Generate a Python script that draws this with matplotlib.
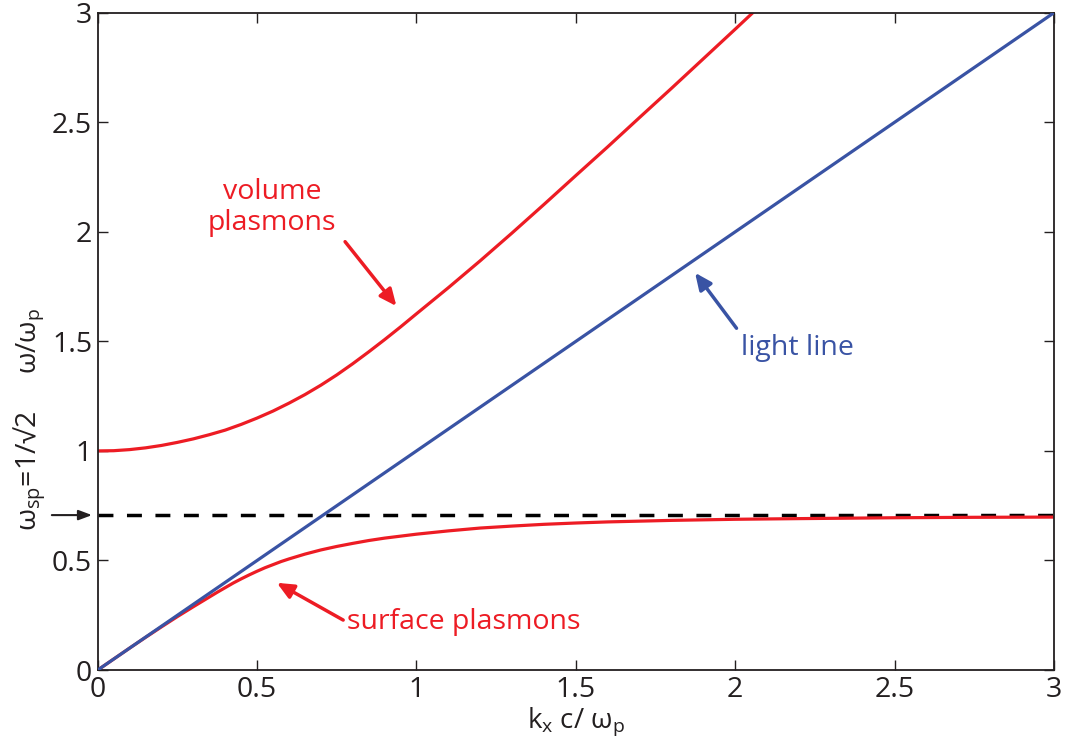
import matplotlib
matplotlib.use("Agg")
import matplotlib.pyplot as plt
from matplotlib.ticker import FormatStrFormatter

plt.rcParams['font.family'] = ['Open Sans', 'DejaVu Sans']
plt.rcParams['mathtext.fontset'] = 'custom'
plt.rcParams['mathtext.rm'] = 'Open Sans'
plt.rcParams['mathtext.it'] = 'Open Sans'

RED = '#ED1C24'
BLUE = '#3953A4'
INK = '#231F20'

# dispersion curves, omega/omega_p vs k_x c/omega_p
light_k = [0.0, 3.0]
light_w = [0.0, 3.0]

volume_k = [0.0, 0.05, 0.1, 0.15, 0.2, 0.25, 0.3, 0.35, 0.4, 0.45, 0.5,
            0.55, 0.6, 0.65, 0.7, 0.75, 0.8, 0.85, 0.9, 0.95, 1.0,
            1.1, 1.2, 1.3, 1.4, 1.5, 1.6, 1.7, 1.8, 1.9, 2.0, 2.055]
volume_w = [1.000, 1.001, 1.006, 1.014, 1.025, 1.039, 1.055, 1.074, 1.095, 1.121, 1.150,
            1.182, 1.218, 1.257, 1.300, 1.347, 1.398, 1.452, 1.508, 1.566, 1.626,
            1.745, 1.868, 1.995, 2.125, 2.257, 2.388, 2.522, 2.655, 2.790, 2.925, 3.000]

surface_k = [0.0, 0.05, 0.1, 0.15, 0.2, 0.25, 0.3, 0.325, 0.35, 0.375, 0.4, 0.425,
             0.45, 0.475, 0.5, 0.525, 0.55, 0.575, 0.6, 0.65, 0.7, 0.75, 0.8,
             0.85, 0.9, 0.95, 1.0, 1.1, 1.2, 1.3, 1.4, 1.5, 1.6, 1.8, 2.0,
             2.2, 2.5, 2.75, 3.0]
surface_w = [0.000, 0.050, 0.100, 0.149, 0.197, 0.244, 0.289, 0.311, 0.333, 0.355, 0.376, 0.397,
             0.416, 0.434, 0.451, 0.467, 0.481, 0.495, 0.507, 0.529, 0.548, 0.564, 0.578,
             0.591, 0.602, 0.611, 0.620, 0.635, 0.648, 0.657, 0.665, 0.671, 0.676, 0.683, 0.688,
             0.691, 0.695, 0.697, 0.698]

w_sp = 0.7071  # 1/sqrt(2)

ticks = [0, 0.5, 1, 1.5, 2, 2.5, 3]

fig = plt.figure(figsize=(10.67, 7.53), dpi=100)
ax = fig.add_axes([0.0916, 0.1102, 0.8962, 0.8729])

ax.axhline(w_sp, color='black', lw=2.5, dashes=(4.3, 3.9), zorder=1)
ax.plot(light_k, light_w, color=BLUE, lw=2.3, zorder=3)
ax.plot(volume_k, volume_w, color=RED, lw=2.3, zorder=2, solid_joinstyle='round')
ax.plot(surface_k, surface_w, color=RED, lw=2.3, zorder=2, solid_joinstyle='round')

ax.set_xlim(0, 3)
ax.set_ylim(0, 3)
ax.set_xticks(ticks)
ax.set_yticks(ticks)
ax.xaxis.set_major_formatter(FormatStrFormatter('%g'))
ax.yaxis.set_major_formatter(FormatStrFormatter('%g'))
ax.tick_params(direction='in', length=7, width=1, colors=INK, labelsize=20.5,
               top=True, right=True, pad=4)
for s in ax.spines.values():
    s.set_color(INK)
    s.set_linewidth(1.3)

ax.set_xlabel(r'k$_{\mathregular{x}}$ c/ $\mathregular{\omega_p}$', fontsize=20,
              color=INK, labelpad=1)

# y labels drawn as two rotated strings
ax.text(-0.071, 0.50, r'$\mathregular{\omega}$/$\mathregular{\omega_p}$',
        transform=ax.transAxes, rotation=90, ha='center', va='center',
        fontsize=20, color=INK)
ax.text(-0.071, 0.303, r'$\mathregular{\omega_{sp}}$=1/√2',
        transform=ax.transAxes, rotation=90, ha='center', va='center',
        fontsize=20.5, color=INK)
ax.annotate('', xy=(-0.006, w_sp), xytext=(-0.048, w_sp),
            xycoords=('axes fraction', 'data'), textcoords=('axes fraction', 'data'),
            annotation_clip=False,
            arrowprops=dict(arrowstyle='-|>,head_length=0.8,head_width=0.3',
                            color=INK, lw=1.5, shrinkA=0, shrinkB=0))

arrow = dict(arrowstyle='-|>,head_length=1.0,head_width=0.45', lw=2.5,
             shrinkA=0, shrinkB=0)

ax.text(0.547, 2.11, 'volume\nplasmons', color=RED, fontsize=20.5,
        ha='center', va='center', linespacing=1.15)
ax.annotate('', xy=(0.937, 1.661), xytext=(0.776, 1.955),
            arrowprops=dict(arrow, color=RED))

ax.text(2.194, 1.47, 'light line', color=BLUE, fontsize=20.5,
        ha='center', va='center')
ax.annotate('', xy=(1.874, 1.813), xytext=(2.004, 1.560),
            arrowprops=dict(arrow, color=BLUE))

ax.text(1.149, 0.219, 'surface plasmons', color=RED, fontsize=20.5,
        ha='center', va='center')
ax.annotate('', xy=(0.562, 0.398), xytext=(0.770, 0.228),
            arrowprops=dict(arrow, color=RED))

fig.savefig('out.png', dpi=100)
